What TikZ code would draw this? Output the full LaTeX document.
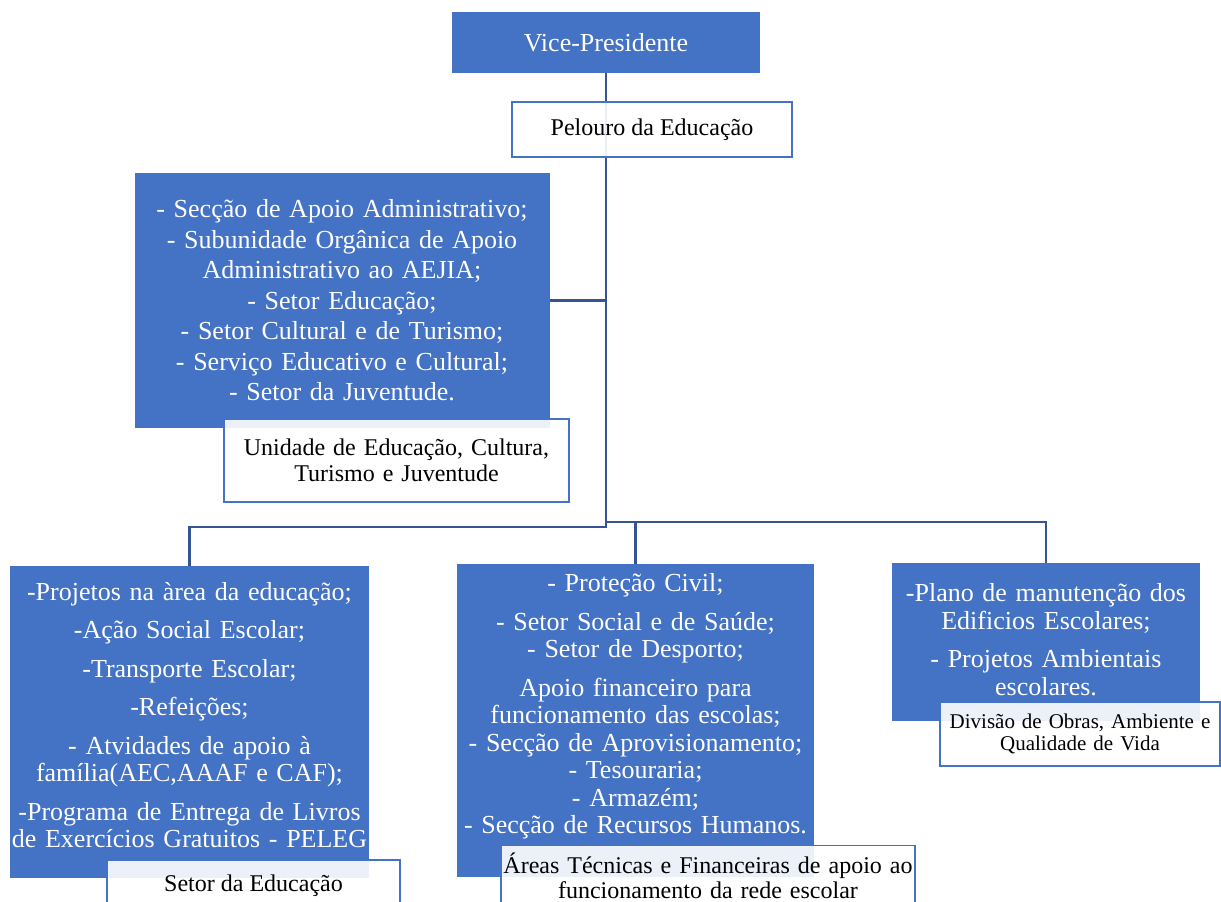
\documentclass[tikz,border=0pt]{standalone}
\usepackage{fontspec}
\setmainfont{Liberation Serif}
\usetikzlibrary{backgrounds}
\definecolor{ofblue}{RGB}{68,114,196}
\definecolor{lnblue}{RGB}{52,84,148}

\begin{document}
\begin{tikzpicture}[x=1pt,y=-1pt,
    unitbox/.style={fill=ofblue,text=white,inner sep=2pt,align=center},
    tagbox/.style={draw=ofblue,line width=1.8pt,fill=white,fill opacity=.9,text opacity=1,inner sep=2pt,align=center},
    link/.style={draw=lnblue,line width=2.4pt}]
        \useasboundingbox (0,0) rectangle (1221,902);
        % top of the chart
        \node [unitbox,minimum width=308,minimum height=61,font=\fontsize{26}{30}\selectfont] (vice) at (606,42.5) {Vice-Presidente};
        \node [tagbox,minimum width=280,minimum height=55,font=\fontsize{24}{27}\selectfont] (pel) at (652,129.5) {Pelouro da Educação};
        \node [unitbox,minimum width=415,minimum height=255,text width=411,font=\fontsize{26}{30.5}\selectfont] (uecj) at (342,300.5)
            {- Secção de Apoio Administrativo;\\ - Subunidade Orgânica de Apoio\\ Administrativo ao AEJIA;\\ - Setor Educação;\\
             - Setor Cultural e de Turismo;\\ - Serviço Educativo e Cultural;\\ - Setor da Juventude.};
        \node [tagbox,minimum width=345,minimum height=83,text width=341,font=\fontsize{24}{25.5}\selectfont] (uecjtag) at (396.5,460.5)
            {Unidade de Educação, Cultura,\\ Turismo e Juventude};
        % the three units below
        \node [unitbox,minimum width=359,minimum height=312,text width=355,font=\fontsize{26}{27.5}\selectfont] (educ) at (189.5,722)
            {-Projetos na àrea da educação;\\[11pt] -Ação Social Escolar;\\[11pt] -Transporte Escolar;\\[11pt] -Refeições;\\[11pt]
             - Atvidades de apoio à\\ família(AEC,AAAF e CAF);\\[11pt] \makebox[0pt]{-Programa de Entrega de Livros}\\
             \makebox[0pt]{de Exercícios Gratuitos - PELEG}\par\vspace*{14pt}};
        \node [tagbox,minimum width=293,minimum height=52,font=\fontsize{24}{26}\selectfont] (eductag) at (253.5,886) {Setor da Educação};
        \node [unitbox,minimum width=357,minimum height=313,text width=353,font=\fontsize{26}{27.5}\selectfont] (tec) at (635.5,720.5)
            {- Proteção Civil;\\[11pt] - Setor Social e de Saúde;\\ - Setor de Desporto;\\[11pt] Apoio financeiro para\\
             funcionamento das escolas;\\ - Secção de Aprovisionamento;\\ - Tesouraria;\\ - Armazém;\\ - Secção de Recursos Humanos.\par\vspace*{28pt}};
        \node [tagbox,minimum width=414,minimum height=60,text width=410,font=\fontsize{24}{25}\selectfont] (tectag) at (708,875.5)
            {Áreas Técnicas e Financeiras de apoio ao\\ funcionamento da rede escolar};
        \node [unitbox,minimum width=308,minimum height=158,text width=304,font=\fontsize{26}{28}\selectfont] (obras) at (1046,642)
            {-Plano de manutenção dos\\ Edificios Escolares;\\[10pt] - Projetos Ambientais\\ escolares.\par\vspace*{5pt}};
        \node [tagbox,minimum width=280,minimum height=64,text width=276,font=\fontsize{21}{22}\selectfont] (obrastag) at (1080,734)
            {Divisão de Obras, Ambiente e\\ Qualidade de Vida};
        % connectors behind the boxes
        \coordinate (jl) at (606,527);
        \coordinate (jr) at (606,522);
        \begin{scope}[on background layer]
            \draw [link] (vice.south)--(jl)-|(educ.north);
            \draw [link] (uecj.east)--(uecj.east -| vice.south);
            \draw [link] (jr)-|(obras.north);
            \draw [link] (tec.north |- jr)--(tec.north);
        \end{scope}
    \end{tikzpicture}
\end{document}
